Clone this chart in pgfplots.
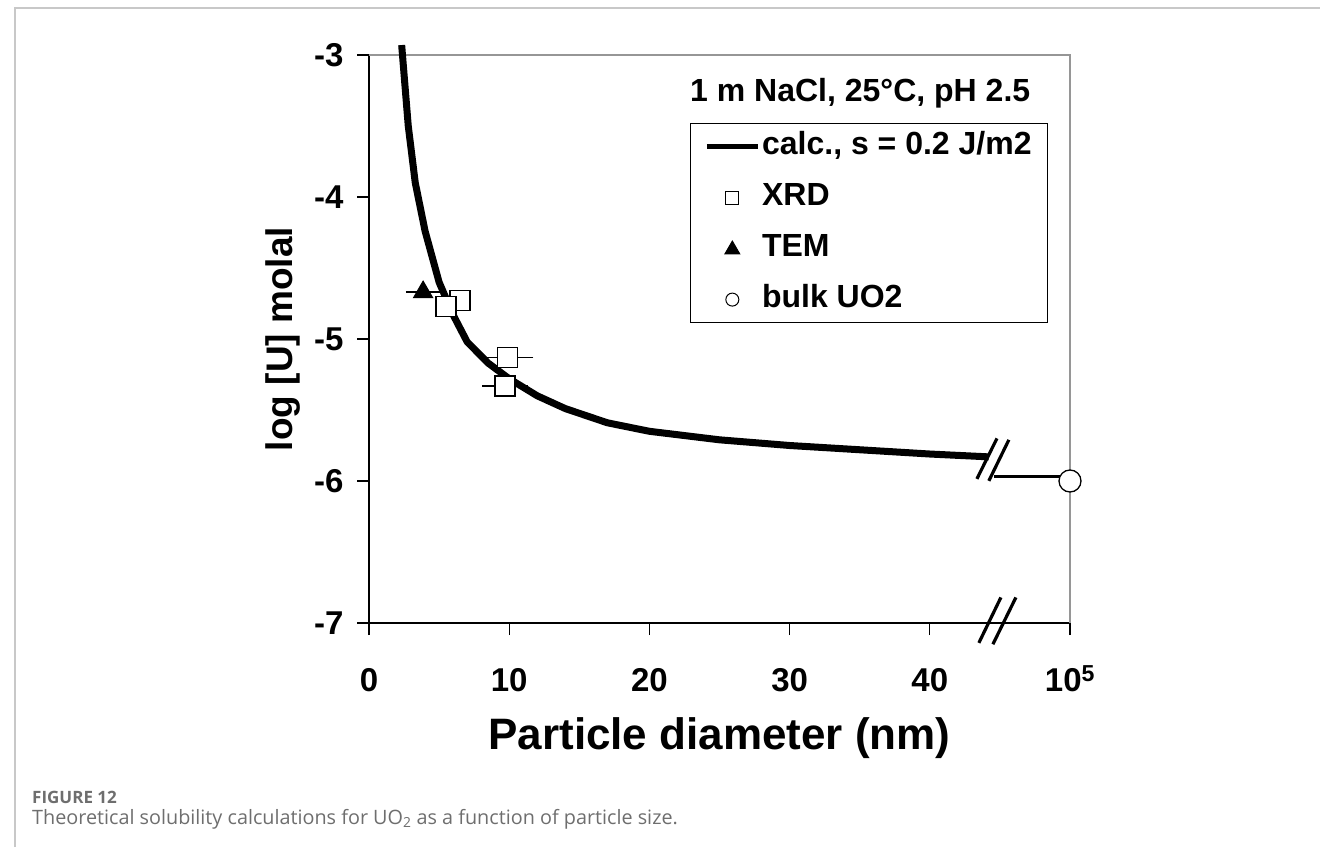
\documentclass[border=0pt]{standalone}
\usepackage{pgfplots}
\pgfplotsset{compat=1.18}
\usepackage{fontspec}
\setmainfont{Liberation Sans}
\newfontfamily\capfont{Open Sans}
\definecolor{capgray}{RGB}{110,110,110}
\definecolor{framegray}{RGB}{200,200,200}
\definecolor{boxgray}{RGB}{150,150,150}
\begin{document}
\begin{tikzpicture}[x=1pt,y=1pt]
\path[use as bounding box] (0,0) rectangle (1320,847);
\draw[framegray, line width=1.2pt] (15,0) -- (15,839) -- (1320,839);
\node[anchor=base west, font=\capfont\bfseries\fontsize{17}{17}\selectfont, text=capgray, inner sep=0pt] at (32,44) {FIGURE 12};
\node[anchor=base west, font=\capfont\fontsize{19.8}{19.8}\selectfont, text=capgray, inner sep=0pt] at (32,23) {Theoretical solubility calculations for UO\textsubscript{2} as a function of particle size.};
\begin{axis}[
  at={(369pt,224pt)}, anchor=south west, scale only axis,
  width=701pt, height=568pt,
  xmin=0, xmax=50, ymin=-7, ymax=-3,
  axis lines=left, axis line style={-, black, line width=1.3pt},
  xtick={0,10,20,30,40,50}, xticklabels={0,10,20,30,40,10\textsuperscript{5}},
  ytick={-7,-6,-5,-4,-3}, yticklabels={-7,-6,-5,-4,-3},
  tick align=outside, major tick length=12pt,
  tick style={black, line width=1.3pt},
  ticklabel style={font=\bfseries\fontsize{33}{33}\selectfont},
  xticklabel style={anchor=base, yshift=-56pt},
  yticklabel style={anchor=east, xshift=-10pt},
  xlabel={Particle diameter (nm)}, ylabel={log [U] molal},
  xlabel style={at={(axis description cs:0.5,-0.2025)}, anchor=center, font=\bfseries\fontsize{44}{44}\selectfont},
  ylabel style={at={(axis description cs:-0.1227,0.5)}, anchor=center, font=\bfseries\fontsize{37}{37}\selectfont},
  clip=false,
  legend style={at={(rel axis cs:0.4579,0.8803)}, anchor=north west, draw=black, line width=1.2pt, fill=white,
    inner xsep=14pt, inner ysep=6pt, row sep=17pt, column sep=0pt,
    nodes={inner sep=2pt, font=\bfseries\fontsize{32}{32}\selectfont, text height=23pt, text depth=7pt},
    cells={anchor=west}},
  legend cell align=left,
]
\draw[boxgray, line width=1.3pt] (rel axis cs:0,1) -- (rel axis cs:1,1) -- (rel axis cs:1,0);
% legend images
\addlegendimage{legend image code/.code={\draw[line width=4.5pt, black] (0pt,0pt) -- (51pt,0pt);}}
\addlegendentry{calc., s = 0.2 J/m2}
\addlegendimage{legend image code/.code={\path[draw=none,fill=none] (0pt,0pt) -- (51pt,0pt); \draw[black, line width=1pt, fill=white] plot[mark=square, mark size=6.5pt] coordinates {(25.5pt,0pt)};}}
\addlegendentry{XRD}
\addlegendimage{legend image code/.code={\path[draw=none,fill=none] (0pt,0pt) -- (51pt,0pt); \draw[black, line width=1pt, fill=black] plot[mark=triangle*, mark size=8.5pt] coordinates {(25.5pt,-1pt)};}}
\addlegendentry{TEM}
\addlegendimage{legend image code/.code={\path[draw=none,fill=none] (0pt,0pt) -- (51pt,0pt); \draw[black, line width=1pt, fill=white] plot[mark=*, mark size=6.5pt] coordinates {(25.5pt,0pt)};}}
\addlegendentry{bulk UO2}
% calculated curve
\addplot[black, line width=7pt, line join=round, forget plot] coordinates {
(2.33,-2.93) (2.8,-3.5) (3.3,-3.9) (4.0,-4.24) (5.0,-4.6) (6.0,-4.83) (7.0,-5.02) (8.5,-5.17) (10,-5.28) (12,-5.40) (14,-5.49) (17,-5.59) (20,-5.65) (25,-5.71) (30,-5.75) (35,-5.78) (40,-5.81) (44.2,-5.83)
};
% bulk line after break
\addplot[black, line width=2.5pt, forget plot] coordinates {(44.6,-5.97) (50,-5.97)};
% break marks
\draw[black, line width=3.2pt] (axis cs:43.36,-5.985) -- (axis cs:44.79,-5.70);
\draw[black, line width=3.2pt] (axis cs:44.21,-5.999) -- (axis cs:45.64,-5.71);
\draw[black, line width=3.2pt] (axis cs:43.5,-7.14) -- (axis cs:45.07,-6.82);
\draw[black, line width=3.2pt] (axis cs:44.5,-7.15) -- (axis cs:46.14,-6.82);
% TEM
\addplot[only marks, mark=triangle*, mark size=11pt, mark options={fill=black, draw=black, line width=1pt}, forget plot,
  error bars/.cd, x dir=both, x explicit, error bar style={line width=1.3pt, black}, error mark options={mark size=6pt, line width=1.3pt, black}]
  coordinates {(3.86,-4.67) +- (0.8,0)};
% XRD
\addplot[only marks, mark=square*, mark size=10pt, mark options={fill=white, draw=black, line width=1.3pt}, forget plot,
  error bars/.cd, x dir=both, x explicit, error bar style={line width=1.3pt, black}, error mark options={mark size=6pt, line width=1.3pt, black}]
  coordinates {(6.5,-4.73) +- (0,0) (5.5,-4.77) +- (0,0) (9.9,-5.13) +- (1.4,0) (9.7,-5.33) +- (1.2,0)};
% bulk
\addplot[only marks, mark=*, mark size=11pt, mark options={fill=white, draw=black, line width=1.3pt}, forget plot]
  coordinates {(50,-6.0)};
\node[anchor=west, inner sep=0pt, font=\bfseries\fontsize{32}{32}\selectfont] at (rel axis cs:0.4579,0.933) {1 m NaCl, 25°C, pH 2.5};
\end{axis}
\end{tikzpicture}
\end{document}
